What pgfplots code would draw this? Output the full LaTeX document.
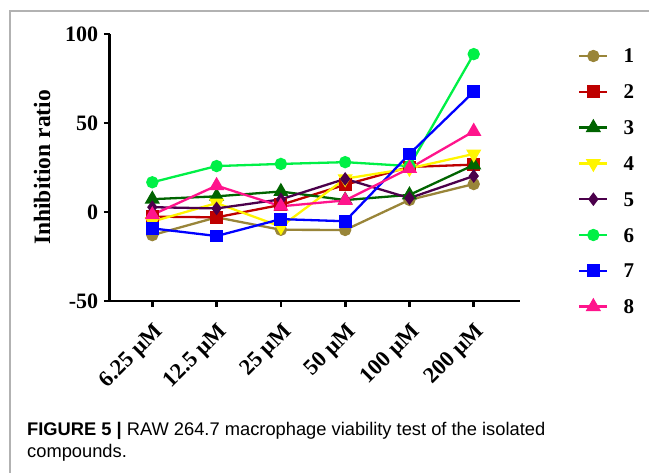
\documentclass[border=0pt]{standalone}
\usepackage{fontspec}
\setmainfont{Liberation Serif}
\newfontfamily\capfont{Liberation Sans}
\usepackage{pgfplots}
\pgfplotsset{compat=1.18}
\definecolor{cA}{RGB}{153,133,57}
\definecolor{cB}{RGB}{190,0,0}
\definecolor{cC}{RGB}{0,100,0}
\definecolor{cD}{RGB}{255,245,0}
\definecolor{cE}{RGB}{75,0,75}
\definecolor{cF}{RGB}{0,240,70}
\definecolor{cG}{RGB}{0,0,255}
\definecolor{cH}{RGB}{255,20,140}
\begin{document}
\begin{tikzpicture}[x=1bp,y=1bp]
\useasboundingbox (0,0) rectangle (649,473);
\draw[line width=1.5bp, color=black!30] (10,-2) -- (10,462) -- (651,462);
\begin{axis}[
  at={(109.5bp,172bp)}, anchor=south west,
  scale only axis, width=410.5bp, height=267bp,
  xmin=-0.666, xmax=5.72, ymin=-50, ymax=100,
  axis x line*=bottom, axis y line*=left,
  axis line style={line width=2.7bp, black},
  tick style={line width=2.7bp, black},
  tick align=outside, major tick length=5.7bp,
  xtick={0,1,2,3,4,5},
  xticklabels={6.25 µM,12.5 µM,25 µM,50 µM,100 µM,200 µM},
  ytick={-50,0,50,100},
  /pgf/number format/assume math mode=true,
  ticklabel style={font=\fontsize{22bp}{25bp}\selectfont\bfseries},
  xticklabel style={font=\fontsize{22.5bp}{25bp}\selectfont\bfseries, rotate=45, anchor=north east, inner sep=1bp, xshift=-9bp, yshift=-10bp},
  yticklabel style={inner sep=2bp, xshift=-3.5bp},
  ylabel={Inhibition ratio},
  ylabel style={font=\fontsize{23.5bp}{26bp}\selectfont\bfseries, at={(rel axis cs:-0.164,0.5)}, anchor=center, rotate=0},
  legend style={at={(1.134,0.952)}, anchor=north west, draw=none, fill=none,
    font=\fontsize{21bp}{24bp}\selectfont\bfseries,
    nodes={inner sep=0pt, text height=14bp, text depth=0bp},
    row sep=21.8bp, column sep=15bp},
  legend cell align=left,
  legend image code/.code={\draw[#1, mark repeat=2, mark phase=2] plot coordinates {(0bp,0bp) (14bp,0bp) (28bp,0bp)};},
  every axis plot/.append style={line width=2.3bp},
  clip=false,
]
\addplot[color=cA, mark=*, mark size=5bp] coordinates {(0,-13.0) (1,-3.0) (2,-10.0) (3,-10.1) (4,6.8) (5,15.7)};
\addlegendentry{1}
\addplot[color=cB, mark=square*, mark size=5.3bp] coordinates {(0,-2.6) (1,-3.0) (2,4.0) (3,15.3) (4,25.3) (5,26.6)};
\addlegendentry{2}
\addplot[color=cC, mark=triangle*, mark size=6.5bp] coordinates {(0,7.2) (1,8.8) (2,11.5) (3,6.7) (4,9.6) (5,26.4)};
\addlegendentry{3}
\addplot[color=cD, mark=triangle*, mark options={rotate=180}, mark size=6.5bp] coordinates {(0,-5.4) (1,5.0) (2,-8.2) (3,18.7) (4,24.5) (5,32.6)};
\addlegendentry{4}
\addplot[color=cE, mark=diamond*, mark size=5bp] coordinates {(0,2.7) (1,2.0) (2,7.1) (3,18.6) (4,7.8) (5,20.2)};
\addlegendentry{5}
\addplot[color=cF, mark=*, mark size=5bp] coordinates {(0,16.7) (1,25.8) (2,27.0) (3,28.0) (4,25.8) (5,88.7)};
\addlegendentry{6}
\addplot[color=cG, mark=square*, mark size=5.3bp] coordinates {(0,-9.2) (1,-13.5) (2,-4.0) (3,-5.2) (4,32.6) (5,67.5)};
\addlegendentry{7}
\addplot[color=cH, mark=triangle*, mark size=6.5bp] coordinates {(0,-1.6) (1,14.8) (2,3.2) (3,6.5) (4,24.5) (5,45.3)};
\addlegendentry{8}
\end{axis}
\node[anchor=base west, inner sep=0pt] at (27,37) {\capfont\fontsize{18.3bp}{20bp}\selectfont\textbf{FIGURE 5 |} RAW 264.7 macrophage viability test of the isolated};
\node[anchor=base west, inner sep=0pt] at (27,15) {\capfont\fontsize{18.3bp}{20bp}\selectfont compounds.};
\end{tikzpicture}
\end{document}
